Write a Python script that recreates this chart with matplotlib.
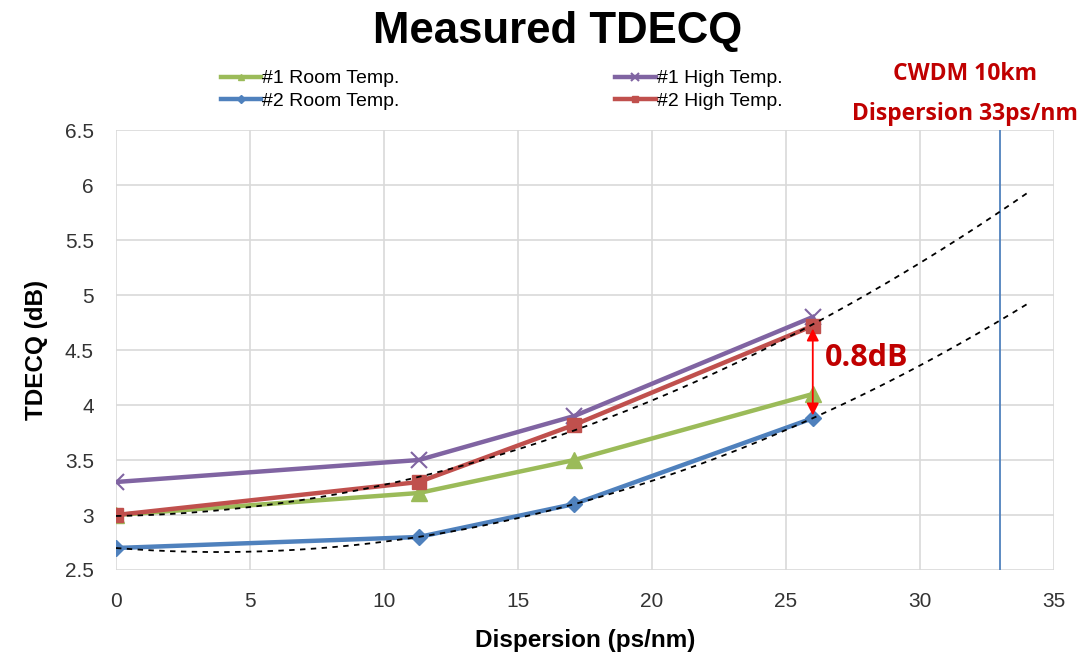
import numpy as np
import matplotlib.pyplot as plt

# data
dispersion = [0, 11.3, 17.1, 26]
room1 = [3.0, 3.2, 3.5, 4.1]
room2 = [2.7, 2.8, 3.1, 3.88]
high1 = [3.3, 3.5, 3.9, 4.8]
high2 = [3.0, 3.3, 3.82, 4.72]
cwdm_x = 33
trend_end = 34

plt.rcParams['font.family'] = ['Liberation Sans', 'DejaVu Sans']

fig = plt.figure(figsize=(10.79, 6.56), dpi=100)
ax = fig.add_axes([0.1075, 0.1311, 0.8693, 0.6707])

lw = 3.2
l1, = ax.plot(dispersion, room1, color='#9BBB59', lw=lw, marker='^', ms=11, label='#1 Room Temp.', zorder=3)
l2, = ax.plot(dispersion, room2, color='#4F81BD', lw=lw, marker='D', ms=8.5, label='#2 Room Temp.', zorder=3)
l3, = ax.plot(dispersion, high1, color='#8064A2', lw=lw, marker='x', ms=12, mew=1.5, label='#1 High Temp.', zorder=3)
l4, = ax.plot(dispersion, high2, color='#C0504D', lw=lw, marker='s', ms=10.5, label='#2 High Temp.', zorder=3)

# polynomial trendlines (Excel-style, forecast forward)
xs = np.linspace(0, trend_end, 200)
for series in (high2, room2):
    p = np.polyfit(dispersion, series, 2)
    ax.plot(xs, np.polyval(p, xs), color='black', lw=1.3, ls=(0, (3, 3)), zorder=4)

ax.axvline(cwdm_x, color='#4F81BD', lw=1.3, zorder=2)

# 0.8dB arrow
ax.annotate('', xy=(dispersion[-1], high2[-1]), xytext=(dispersion[-1], room2[-1]),
            arrowprops=dict(arrowstyle='<|-|>', color='red', lw=1.3, mutation_scale=18), zorder=5)
ax.text(26.45, 4.43, '0.8dB', color='#C00000', fontsize=22, fontweight='bold',
        family=['Open Sans', 'DejaVu Sans'], va='center', ha='left', zorder=5)

ax.set_xlim(0, 35)
ax.set_ylim(2.5, 6.5)
ax.set_xticks(range(0, 36, 5))
ax.set_yticks(np.arange(2.5, 6.51, 0.5))
ax.set_yticklabels(['2.5', '3', '3.5', '4', '4.5', '5', '5.5', '6', '6.5'])
ax.grid(True, color='#D9D9D9', lw=1.2, zorder=0)
for s in ax.spines.values():
    s.set_visible(False)
ax.tick_params(length=0, labelsize=15, colors='#333333', pad=16)
ax.set_xlabel('Dispersion (ps/nm)', fontsize=17.5, fontweight='bold', labelpad=13)
ax.set_ylabel('TDECQ (dB)', fontsize=17.5, fontweight='bold', labelpad=12)

fig.text(0.517, 0.952, 'Measured TDECQ', ha='center', va='center', fontsize=31.5, fontweight='bold')

fig.legend(handles=[l1, l2, l3, l4], loc='center', bbox_to_anchor=(0.4648, 0.863), ncol=2,
           frameon=False, fontsize=14, handlelength=2.1, handletextpad=0.05,
           columnspacing=11.07, labelspacing=0.25, markerscale=0.45)

fig.text(0.894, 0.887, 'CWDM 10km', color='#C00000', fontsize=16.5, fontweight='bold',
         family=['Open Sans', 'DejaVu Sans'], ha='center', va='center')
fig.text(0.894, 0.826, 'Dispersion 33ps/nm', color='#C00000', fontsize=16.5, fontweight='bold',
         family=['Open Sans', 'DejaVu Sans'], ha='center', va='center')

fig.savefig('out.png', dpi=100)
